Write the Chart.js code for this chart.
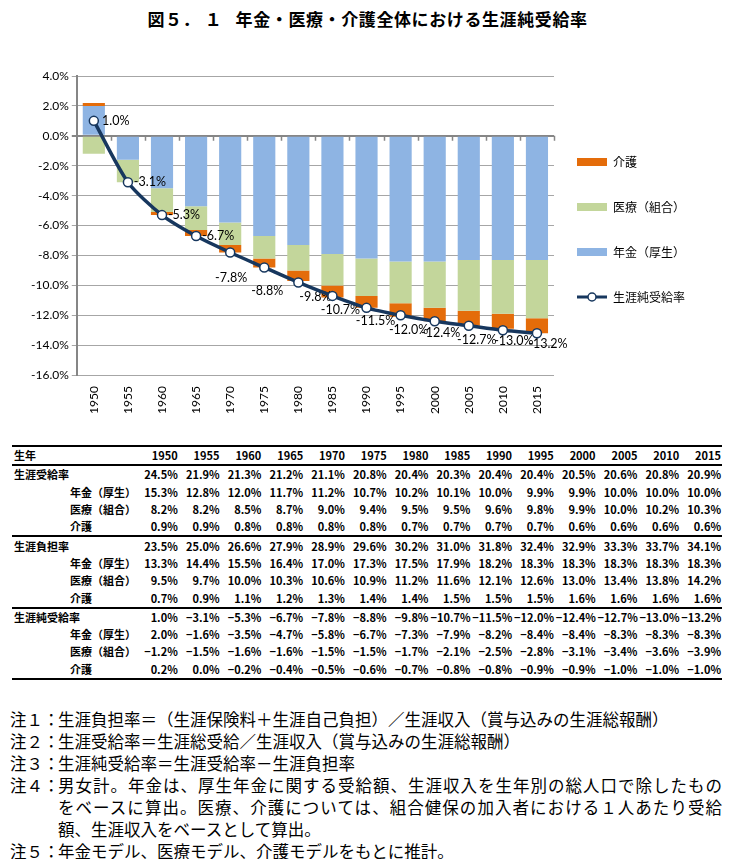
<!DOCTYPE html>
<html lang="ja">
<head>
<meta charset="utf-8">
<script src="https://cdn.jsdelivr.net/npm/chart.js@4.4.1/dist/chart.umd.min.js"></script>
<style>
  body { margin: 0; width: 735px; height: 859px; background: #fff; position: relative; font-family: "Noto Sans CJK JP", sans-serif; color: #000; overflow: hidden; }
  #title { position: absolute; top: 6px; left: 0; width: 735px; text-align: center; font-size: 17px; font-weight: bold; letter-spacing: 0.6px; }
  #chartBox { position: absolute; top: 50px; left: 0; width: 735px; height: 375px; }
  #tbl { position: absolute; top: 445px; left: 12px; width: 710px; border-collapse: collapse; table-layout: fixed; font-size: 11px; font-weight: bold; }
  #tbl td { height: 17.3px; padding: 0 1px; text-align: right; white-space: nowrap; line-height: 1; overflow: visible; }
  #tbl td.lbl { text-align: left; padding-left: 2px; }
  #tbl td.sub { padding-left: 58px; }
  #tbl tr.top td { border-top: 2px solid #000; }
  #tbl tr.grp td { border-top: 2px solid #000; }
  #tbl tr.last td { border-bottom: 2px solid #000; }
  #notes { position: absolute; top: 708px; left: 10px; width: 712px; font-size: 16.5px; line-height: 22px; }
  .note { display: flex; }
  .note .k { width: 48px; flex: none; white-space: nowrap; }
  .note .v { flex: 1; }
  .note .v span { display: block; }
  .note .v span.j { text-align: justify; text-align-last: justify; }
</style>
</head>
<body>
<div id="title">図５．&nbsp;１&nbsp;&nbsp;&nbsp;年金・医療・介護全体における生涯純受給率</div>
<div id="chartBox"><canvas id="netChart"></canvas></div>
<table id="tbl"></table>
<div id="notes">
  <div class="note"><span class="k">注１：</span><span class="v">生涯負担率＝（生涯保険料＋生涯自己負担）／生涯収入（賞与込みの生涯総報酬）</span></div>
  <div class="note"><span class="k">注２：</span><span class="v">生涯受給率＝生涯総受給／生涯収入（賞与込みの生涯総報酬）</span></div>
  <div class="note"><span class="k">注３：</span><span class="v">生涯純受給率＝生涯受給率－生涯負担率</span></div>
  <div class="note"><span class="k">注４：</span><span class="v"><span class="j">男女計。年金は、厚生年金に関する受給額、生涯収入を生年別の総人口で除したもの</span><span class="j">をベースに算出。医療、介護については、組合健保の加入者における１人あたり受給</span><span>額、生涯収入をベースとして算出。</span></span></div>
  <div class="note"><span class="k">注５：</span><span class="v">年金モデル、医療モデル、介護モデルをもとに推計。</span></div>
</div>
<script>
// 生年
var years = ['1950', '1955', '1960', '1965', '1970', '1975', '1980', '1985', '1990', '1995', '2000', '2005', '2010', '2015'];

// 生涯純受給率 (chart)
var netNenkin = [2.0, -1.6, -3.5, -4.7, -5.8, -6.7, -7.3, -7.9, -8.2, -8.4, -8.4, -8.3, -8.3, -8.3];
var netIryo = [-1.2, -1.5, -1.6, -1.6, -1.5, -1.5, -1.7, -2.1, -2.5, -2.8, -3.1, -3.4, -3.6, -3.9];
var netKaigo = [0.2, 0.0, -0.2, -0.4, -0.5, -0.6, -0.7, -0.8, -0.8, -0.9, -0.9, -1.0, -1.0, -1.0];
var netTotal = [1.0, -3.1, -5.3, -6.7, -7.8, -8.8, -9.8, -10.7, -11.5, -12.0, -12.4, -12.7, -13.0, -13.2];

// 生涯受給率
var recvTotal = [24.5, 21.9, 21.3, 21.2, 21.1, 20.8, 20.4, 20.3, 20.4, 20.4, 20.5, 20.6, 20.8, 20.9];
var recvNenkin = [15.3, 12.8, 12.0, 11.7, 11.2, 10.7, 10.2, 10.1, 10.0, 9.9, 9.9, 10.0, 10.0, 10.0];
var recvIryo = [8.2, 8.2, 8.5, 8.7, 9.0, 9.4, 9.5, 9.5, 9.6, 9.8, 9.9, 10.0, 10.2, 10.3];
var recvKaigo = [0.9, 0.9, 0.8, 0.8, 0.8, 0.8, 0.7, 0.7, 0.7, 0.7, 0.6, 0.6, 0.6, 0.6];

// 生涯負担率
var burdTotal = [23.5, 25.0, 26.6, 27.9, 28.9, 29.6, 30.2, 31.0, 31.8, 32.4, 32.9, 33.3, 33.7, 34.1];
var burdNenkin = [13.3, 14.4, 15.5, 16.4, 17.0, 17.3, 17.5, 17.9, 18.2, 18.3, 18.3, 18.3, 18.3, 18.3];
var burdIryo = [9.5, 9.7, 10.0, 10.3, 10.6, 10.9, 11.2, 11.6, 12.1, 12.6, 13.0, 13.4, 13.8, 14.2];
var burdKaigo = [0.7, 0.9, 1.1, 1.2, 1.3, 1.4, 1.4, 1.5, 1.5, 1.5, 1.6, 1.6, 1.6, 1.6];

var C_NENKIN = '#8EB4E3';
var C_IRYO = '#C3D69B';
var C_KAIGO = '#E46C0A';
var C_LINE = '#17375E';

// where each data label sits relative to its point (dx, dy)
var labelOffsets = [[22, 0], [22, 0], [22, 0], [22, 0], [1, 25], [3, 24], [17, 15], [8, 14], [9, 13], [8, 15], [6, 12], [8, 14], [11, 11], [11, 11]];

// ---- table ----
function pct(v) {
    return (v < 0 ? '\u2212' + (-v).toFixed(1) : v.toFixed(1)) + '%';
}
var tableRows = [
    ['生年', null, years, 'top'],
    ['生涯受給率', false, recvTotal, 'grp'],
    ['年金（厚生）', true, recvNenkin],
    ['医療（組合）', true, recvIryo],
    ['介護', true, recvKaigo],
    ['生涯負担率', false, burdTotal, 'grp'],
    ['年金（厚生）', true, burdNenkin],
    ['医療（組合）', true, burdIryo],
    ['介護', true, burdKaigo],
    ['生涯純受給率', false, netTotal, 'grp'],
    ['年金（厚生）', true, netNenkin],
    ['医療（組合）', true, netIryo],
    ['介護', true, netKaigo, 'last']
];
var tbl = document.getElementById('tbl');
var cg = document.createElement('colgroup');
var col0 = document.createElement('col');
col0.style.width = '125px';
cg.appendChild(col0);
years.forEach(function () {
    var col = document.createElement('col');
    col.style.width = ((710 - 125) / years.length) + 'px';
    cg.appendChild(col);
});
tbl.appendChild(cg);
tableRows.forEach(function (r) {
    var tr = document.createElement('tr');
    if (r[3]) tr.className = r[3];
    var td = document.createElement('td');
    td.className = 'lbl' + (r[1] ? ' sub' : '');
    td.textContent = r[0];
    tr.appendChild(td);
    r[2].forEach(function (v) {
        var c = document.createElement('td');
        c.textContent = r[1] === null ? v : pct(v);
        tr.appendChild(c);
    });
    tbl.appendChild(tr);
});

// ---- legend swatches ----
function boxImg(color) {
    var c = document.createElement('canvas');
    c.width = 30; c.height = 8;
    var g = c.getContext('2d');
    g.fillStyle = color;
    g.fillRect(0, 0, 30, 8);
    return c;
}
function lineImg() {
    var c = document.createElement('canvas');
    c.width = 30; c.height = 12;
    var g = c.getContext('2d');
    g.strokeStyle = C_LINE; g.lineWidth = 3;
    g.beginPath(); g.moveTo(0, 6); g.lineTo(30, 6); g.stroke();
    g.fillStyle = '#fff'; g.lineWidth = 1.5;
    g.beginPath(); g.arc(15, 6, 4, 0, Math.PI * 2); g.fill(); g.stroke();
    return c;
}

// small category tick marks hanging under the 0% line
var zeroTicks = {
    id: 'zeroTicks',
    beforeDatasetsDraw: function (chart) {
        var xs = chart.scales.x, ys = chart.scales.y, ctx = chart.ctx;
        var y0 = ys.getPixelForValue(0);
        var step = xs.getPixelForTick(1) - xs.getPixelForTick(0);
        ctx.save();
        ctx.strokeStyle = '#868686';
        ctx.lineWidth = 1.5;
        ctx.beginPath();
        for (var i = 1; i <= years.length; i++) {
            var x = Math.round(xs.getPixelForTick(i - 1) + step / 2) + 0.5;
            ctx.moveTo(x, y0);
            ctx.lineTo(x, y0 + 5);
        }
        ctx.stroke();
        ctx.restore();
    }
};

// data labels, drawn just before the line so the line sits on top
var netLabels = {
    id: 'netLabels',
    beforeDatasetDraw: function (chart, args) {
        if (args.index !== 3) return;
        var ctx = chart.ctx;
        var meta = chart.getDatasetMeta(3);
        ctx.save();
        ctx.font = '12.5px Lato';
        ctx.fillStyle = '#000';
        ctx.textAlign = 'center';
        ctx.textBaseline = 'middle';
        meta.data.forEach(function (pt, i) {
            var t = netTotal[i].toFixed(1) + '%';
            var o = labelOffsets[i];
            ctx.fillText(t, pt.x + o[0], pt.y + o[1]);
        });
        ctx.restore();
    }
};

// nudge the legend up/left to where the original has it
var legendNudge = {
    id: 'legendNudge',
    afterLayout: function (chart) {
        var lg = chart.legend;
        lg.top -= 17; lg.bottom -= 17;
        lg.left -= 10; lg.right -= 10;
    }
};

var legendImgs = [boxImg(C_NENKIN), boxImg(C_IRYO), boxImg(C_KAIGO), lineImg()];

var netChart = new Chart(document.getElementById('netChart'), {
    type: 'bar',
    data: {
        labels: years,
        datasets: [
            { label: '年金（厚生）', data: netNenkin, backgroundColor: C_NENKIN, order: 1 },
            { label: '医療（組合）', data: netIryo, backgroundColor: C_IRYO, order: 1 },
            { label: '介護', data: netKaigo, backgroundColor: C_KAIGO, order: 1 },
            {
                type: 'line', label: '生涯純受給率', data: netTotal, order: 0,
                borderColor: C_LINE, borderWidth: 3.5, tension: 0.25,
                pointRadius: 4.5, pointBackgroundColor: '#fff', pointBorderColor: C_LINE, pointBorderWidth: 1.5,
                stack: 'line'
            }
        ]
    },
    options: {
        responsive: true,
        maintainAspectRatio: false,
        animation: false,
        datasets: { bar: { categoryPercentage: 1, barPercentage: 0.65 } },
        layout: { padding: { top: 26, left: 28, right: 30, bottom: 8 } },
        plugins: {
            tooltip: { enabled: false },
            legend: {
                position: 'right',
                labels: {
                    usePointStyle: true,
                    pointStyleWidth: 30,
                    padding: 33,
                    color: '#000',
                    font: { family: '"Noto Sans CJK JP"', size: 12 },
                    generateLabels: function (chart) {
                        return [2, 1, 0, 3].map(function (i) {
                            return {
                                text: chart.data.datasets[i].label,
                                datasetIndex: i,
                                pointStyle: legendImgs[i],
                                fillStyle: 'transparent',
                                strokeStyle: 'transparent',
                                lineWidth: 0,
                                hidden: false
                            };
                        });
                    }
                }
            }
        },
        scales: {
            x: {
                stacked: true,
                grid: { display: false },
                border: { display: false },
                ticks: {
                    minRotation: 90, maxRotation: 90,
                    color: '#000', font: { family: 'Lato', size: 12 }
                }
            },
            y: {
                stacked: true,
                min: -16, max: 4,
                border: { display: true, color: '#868686', width: 2 },
                grid: {
                    color: function (c) { return c.tick.value === 0 ? '#868686' : '#A6A6A6'; },
                    lineWidth: function (c) { return c.tick.value === 0 ? 2 : 1; },
                    drawTicks: true, tickLength: 5
                },
                ticks: {
                    stepSize: 2,
                    color: '#000', font: { family: 'Lato', size: 12 },
                    callback: function (v) { return v.toFixed(1) + '%'; }
                }
            }
        }
    },
    plugins: [zeroTicks, netLabels, legendNudge]
});
</script>
</body>
</html>
